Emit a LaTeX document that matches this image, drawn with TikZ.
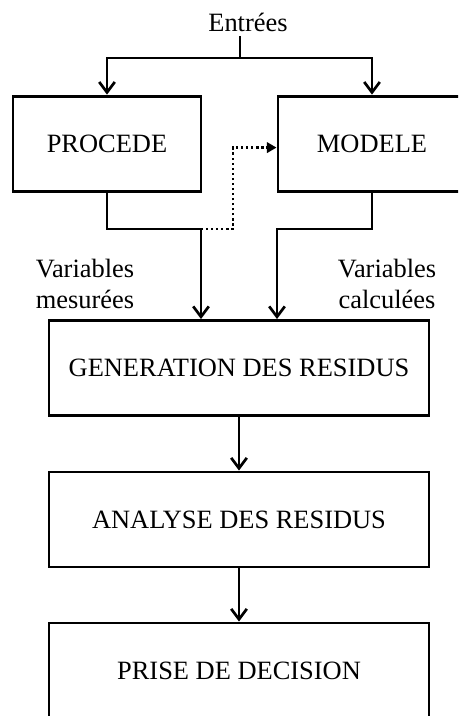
\documentclass[tikz,border=0pt]{standalone}
\usepackage{fontspec}
\setmainfont{Liberation Serif}
\usepackage{tikz}
\usetikzlibrary{arrows.meta}

\begin{document}
\begin{tikzpicture}[font=\fontsize{18.8}{22.5}\selectfont,
    bloc/.style={draw=black, line width=2.1pt, minimum height=2.375cm},
    fleche/.style={line width=2.1pt, -{Straight Barb[length=2.6mm,width=3.9mm,line width=1.9pt]}}]
     \clip (0,0) rectangle (11.45,17.9);
     % les blocs
     \node[bloc, minimum width=4.7cm] (procede) at (2.675,14.31) {PROCEDE};
     \node[bloc, minimum width=4.7cm] (modele) at (9.3,14.31) {MODELE};
     \node[bloc, minimum width=9.5cm] (generation) at (5.975,8.7) {GENERATION DES RESIDUS};
     \node[bloc, minimum width=9.5cm] (analyse) at (5.975,4.9125) {ANALYSE DES RESIDUS};
     \node[bloc, minimum width=9.5cm] (decision) at (5.975,1.1375) {PRISE DE DECISION};
     \node (entrees) at (6.2,17.35) {Entrées};
     \node[align=center] (mesurees) at (2.125,10.8) {Variables\\mesurées};
     \node[align=center] (calculees) at (9.675,10.8) {Variables\\calculées};
     \coordinate (split) at (6,16.45);
     \coordinate (mes) at (5.025,12.175);
     \coordinate (cal) at (6.925,12.175);
     \coordinate (pt) at (5.825,12.175);
      \draw[line width=2.1pt] (split |- 0,17.0) -- (split);
      \draw[fleche] (split) -| (procede.north);
      \draw[fleche] (split) -| (modele.north);
      \draw[fleche] (procede.south) |- (mes) -- (mes |- generation.north);
      \draw[fleche] (modele.south) |- (cal) -- (cal |- generation.north);
      \draw[line width=1.6pt, dotted, -{Triangle[length=2.4mm,width=2.6mm]}] (mes) -- (pt) |- ([yshift=-0.1cm]modele.west);
      \draw[fleche] (generation) -- (analyse);
      \draw[fleche] (analyse) -- (decision);
\end{tikzpicture}
\end{document}
